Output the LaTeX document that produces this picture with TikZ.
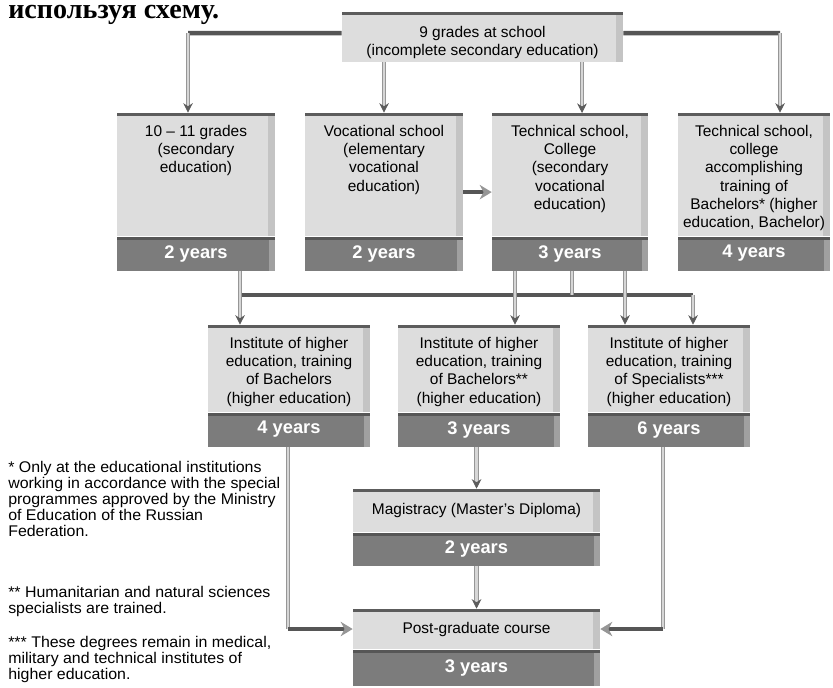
\documentclass[tikz,border=0pt]{standalone}
\usepackage{fontspec}
\setmainfont{Liberation Sans}
\newfontfamily\headfont{Liberation Serif}
\newfontfamily\notefont{Liberation Sans}[FakeStretch=1.03]
\usetikzlibrary{arrows.meta,positioning}
\definecolor{stagefill}{RGB}{221,221,221}
\definecolor{stageside}{RGB}{196,196,196}
\definecolor{edgedark}{RGB}{92,92,92}
\definecolor{yearfill}{RGB}{124,124,124}
\definecolor{yearside}{RGB}{160,160,160}
\definecolor{barline}{RGB}{86,86,86}
\definecolor{tubeline}{RGB}{150,150,150}
\definecolor{tubefill}{RGB}{214,214,214}
\tikzset{
  stage/.style={fill=stagefill, inner sep=0pt, align=center, font=\fontsize{11}{13}\selectfont,
    path picture={
      \fill[stageside] ([xshift=-5pt]path picture bounding box.north east) rectangle (path picture bounding box.south east);
      \fill[edgedark] (path picture bounding box.north west) rectangle ([yshift=-2.2pt]path picture bounding box.north east);}},
  yearbar/.style={fill=yearfill, inner sep=0pt, minimum height=0.85cm, text=white,
    font=\fontsize{13}{15}\selectfont\bfseries,
    path picture={
      \fill[yearside] ([xshift=-4pt]path picture bounding box.north east) rectangle (path picture bounding box.south east);
      \fill[barline] (path picture bounding box.north west) rectangle ([yshift=-2.6pt]path picture bounding box.north east);}},
  stagetxt/.style={align=center, font=\fontsize{11}{13}\selectfont, inner sep=0pt},
  note/.style={anchor=north west, align=left, inner sep=0pt, font=\notefont\fontsize{11}{11.4}\selectfont},
  tube/.style={draw=tubeline, double=tubefill, double distance=1.8pt, line width=0.6pt},
  tubearrow/.style={tube, -{Stealth[length=2.4mm, width=2.4mm, color=edgedark]}},
  bar/.style={draw=barline, line width=3.2pt},
  bararrow/.style={bar, -{Stealth[length=3mm, width=3.6mm, color=tubeline]}}
}
\begin{document}
\begin{tikzpicture}[x=0.025cm, y=-0.025cm]
  \useasboundingbox[fill=white] (0,0) rectangle (833,687);
  \node[anchor=base west, inner sep=0pt, font=\headfont\fontsize{20}{24}\selectfont\bfseries] (task) at (8,18) {используя схему.};

  % top
  \node[stage, minimum width=7.025cm, minimum height=1.25cm] (nine) at (482.5,37) {};
  \node[stagetxt, yshift=-4pt] (ninetxt) at (nine.center) {9 grades at school\\(incomplete secondary education)};

  % first row
  \node[stage, minimum width=3.95cm, minimum height=3.075cm] (grades) at (196,174.5) {};
  \node[stage, minimum width=3.95cm, minimum height=3.075cm] (voc) at (384,174.5) {};
  \node[stage, minimum width=3.9cm, minimum height=3.075cm] (tech) at (570,174.5) {};
  \node[stage, minimum width=3.8cm, minimum height=3.075cm] (coll) at (754,174.5) {};
  \node[yearbar, minimum width=3.95cm, below=0pt of grades] (gradesyr) {2 years};
  \node[yearbar, minimum width=3.95cm, below=0pt of voc] (vocyr) {2 years};
  \node[yearbar, minimum width=3.9cm, below=0pt of tech] (techyr) {3 years};
  \node[yearbar, minimum width=3.8cm, below=0pt of coll] (collyr) {4 years};
  \node[stagetxt, below=0.3cm of grades.north] (gradestxt) {10 -- 11 grades\\(secondary\\education)};
  \node[stagetxt, below=0.3cm of voc.north] (voctxt) {Vocational school\\(elementary\\vocational\\education)};
  \node[stagetxt, below=0.3cm of tech.north] (techtxt) {Technical school,\\College\\(secondary\\vocational\\education)};
  \node[stagetxt, below=0.3cm of coll.north] (colltxt) {Technical school,\\college\\accomplishing\\training of\\Bachelors* (higher\\education, Bachelor)};

  % second row
  \node[stage, minimum width=4.05cm, minimum height=2.175cm] (inst1) at (289,368.5) {};
  \node[stage, minimum width=4.05cm, minimum height=2.175cm] (inst2) at (479,368.5) {};
  \node[stage, minimum width=4.05cm, minimum height=2.175cm] (inst3) at (669,368.5) {};
  \node[yearbar, minimum width=4.05cm, below=0pt of inst1] (inst1yr) {4 years};
  \node[yearbar, minimum width=4.05cm, below=0pt of inst2] (inst2yr) {3 years};
  \node[yearbar, minimum width=4.05cm, below=0pt of inst3] (inst3yr) {6 years};
  \node[stagetxt, below=0.3cm of inst1.north] (inst1txt) {Institute of higher\\education, training\\of Bachelors\\(higher education)};
  \node[stagetxt, below=0.3cm of inst2.north] (inst2txt) {Institute of higher\\education, training\\of Bachelors**\\(higher education)};
  \node[stagetxt, below=0.3cm of inst3.north] (inst3txt) {Institute of higher\\education, training\\of Specialists***\\(higher education)};

  % magistracy and post-graduate
  \node[stage, minimum width=6.175cm, minimum height=1.075cm] (mag) at (476.5,510.5) {Magistracy (Master’s Diploma)};
  \node[yearbar, minimum width=6.175cm, minimum height=0.825cm, below=0pt of mag] (magyr) {2 years};
  \node[stage, minimum width=6.175cm, minimum height=1.0cm] (post) at (476.5,629) {Post-graduate course};
  \node[yearbar, minimum width=6.175cm, minimum height=0.9cm, below=0pt of post] (postyr) {3 years};

  % footnotes
  \node[note] (note1) at (8,461) {* Only at the educational institutions\\working in accordance with the special\\programmes approved by the Ministry\\of Education of the Russian\\Federation.};
  \node[note] (note2) at (8,586) {** Humanitarian and natural sciences\\specialists are trained.};
  \node[note] (note3) at (8,636) {*** These degrees remain in medical,\\military and technical institutes of\\higher education.};

  % connectors from the top
  \coordinate (k1) at (188,33);
  \coordinate (k4) at (780,33);
  \coordinate (t3) at (582,113);
  \draw[bar] ([yshift=0.1cm]nine.west) -- (k1);
  \draw[bar] ([yshift=0.1cm]nine.east) -- (k4);
  \draw[tubearrow] (k1) -- (k1 |- grades.north);
  \draw[tubearrow] (k4) -- (k4 |- coll.north);
  \draw[tubearrow] (voc.north |- nine.south) -- (voc.north);
  \draw[tubearrow] (t3 |- nine.south) -- (t3);
  \draw[bararrow] ([yshift=-0.44cm]voc.east) -- ([yshift=-0.44cm]tech.west);

  % bus to the institutes
  \coordinate (d1) at (240,295);
  \coordinate (d2) at (515,295);
  \coordinate (d3) at (572,295);
  \coordinate (d4) at (625,295);
  \coordinate (d5) at (693,295);
  \draw[bar] (d1) -- (d5);
  \draw[tube] (d1 |- gradesyr.south) -- (d1);
  \draw[tube] (d3 |- techyr.south) -- (d3);
  \draw[tubearrow] (d1) -- (d1 |- inst1.north);
  \draw[tubearrow] (d2 |- techyr.south) -- (d2 |- inst2.north);
  \draw[tubearrow] (d4 |- techyr.south) -- (d4 |- inst3.north);
  \draw[tubearrow] (d5) -- (d5 |- inst3.north);

  % lower connectors
  \coordinate (k5) at (288,629);
  \coordinate (k6) at (663,629);
  \draw[tubearrow] (mag.north |- inst2yr.south) -- (mag.north);
  \draw[tubearrow] (magyr.south) -- (post.north);
  \draw[tube] (k5 |- inst1yr.south) -- (k5);
  \draw[tube] (k6 |- inst3yr.south) -- (k6);
  \draw[bararrow] (k5) -- (post.west);
  \draw[bararrow] (k6) -- (post.east);
\end{tikzpicture}
\end{document}
